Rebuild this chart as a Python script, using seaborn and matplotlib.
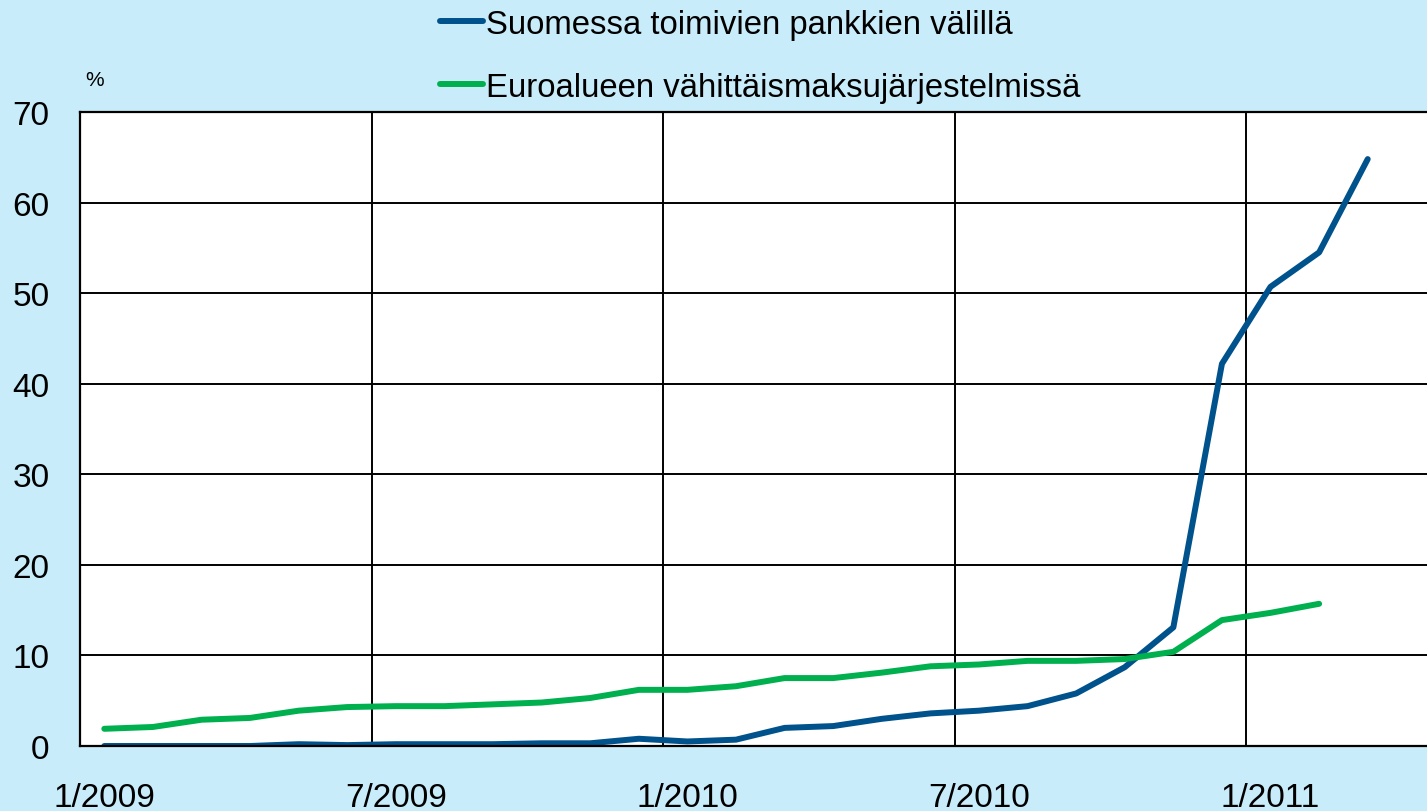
import matplotlib
matplotlib.use("Agg")
import numpy as np
import pandas as pd
import matplotlib.pyplot as plt
import seaborn as sns

# ========================
# Data (monthly, 1/2009 - 3/2011), %
# ========================
sarja_1 = "Suomessa toimivien pankkien välillä"
sarja_2 = "Euroalueen vähittäismaksujärjestelmissä"

suomi = [0.0, 0.0, 0.0, 0.0, 0.2, 0.1, 0.2, 0.2, 0.2, 0.3, 0.3, 0.8, 0.5,
         0.7, 2.0, 2.2, 3.0, 3.6, 3.9, 4.4, 5.8, 8.7, 13.1, 42.2, 50.7, 54.5, 64.8]
euroalue = [1.9, 2.1, 2.9, 3.1, 3.9, 4.3, 4.4, 4.4, 4.6, 4.8, 5.3, 6.2, 6.2,
            6.6, 7.5, 7.5, 8.1, 8.8, 9.0, 9.4, 9.4, 9.6, 10.4, 13.9, 14.7, 15.7]

tick_labels = ["1/2009", "7/2009", "1/2010", "7/2010", "1/2011"]
y_ticks = [0, 10, 20, 30, 40, 50, 60, 70]

df = pd.concat([
    pd.DataFrame({"kk": np.arange(len(suomi)) + 0.5, "arvo": suomi, "sarja": sarja_1}),
    pd.DataFrame({"kk": np.arange(len(euroalue)) + 0.5, "arvo": euroalue, "sarja": sarja_2}),
])

# ========================
# Figure
# ========================
sns.set_style("white")
plt.rcParams["font.family"] = ["Liberation Sans", "DejaVu Sans"]
plt.rcParams["text.color"] = "black"

bg = "#c8ecfa"
fig = plt.figure(figsize=(14.27, 8.12), dpi=100, facecolor=bg)
ax = fig.add_axes([80 / 1427, 65 / 812, 1347 / 1427, 634 / 812])
ax.set_facecolor("white")

sns.lineplot(data=df, x="kk", y="arvo", hue="sarja",
             palette={sarja_1: "#00528c", sarja_2: "#00b04f"},
             linewidth=4.3, solid_capstyle="round", ax=ax)

ax.set_xlim(0, 27.72)
ax.set_ylim(0, 70)
ax.set_yticks(y_ticks)
ax.set_xticks([6, 12, 18, 24])
ax.set_xticklabels([])
ax.set_xticks([0.5 + 6 * i for i in range(len(tick_labels))], minor=True)
ax.set_xticklabels(tick_labels, minor=True)
ax.tick_params(axis="both", which="both", length=0, labelsize=24, colors="black")
ax.tick_params(axis="y", pad=22)
ax.tick_params(axis="x", which="minor", pad=26)
ax.grid(True, which="major", color="black", linewidth=1.4)
ax.set_axisbelow(True)
ax.set_xlabel("")
ax.set_ylabel("")

for side in ["top", "left", "bottom"]:
    ax.spines[side].set_visible(True)
    ax.spines[side].set_color("black")
    ax.spines[side].set_linewidth(1.6)
ax.spines["right"].set_visible(False)

fig.text(85 / 1427, 1 - 80 / 812, "%", fontsize=15, va="center", ha="left")

handles, labels = ax.get_legend_handles_labels()
leg = ax.legend(handles, labels, loc="upper left", bbox_to_anchor=(440 / 1427, 1 - 10 / 812),
                bbox_transform=fig.transFigure, frameon=False, fontsize=23.7,
                borderpad=0, borderaxespad=0, handlelength=1.3, handletextpad=0.1,
                labelspacing=0.97)
for t in leg.get_texts():
    t.set_color("black")

plt.savefig("out.png", dpi=100, facecolor=bg)
